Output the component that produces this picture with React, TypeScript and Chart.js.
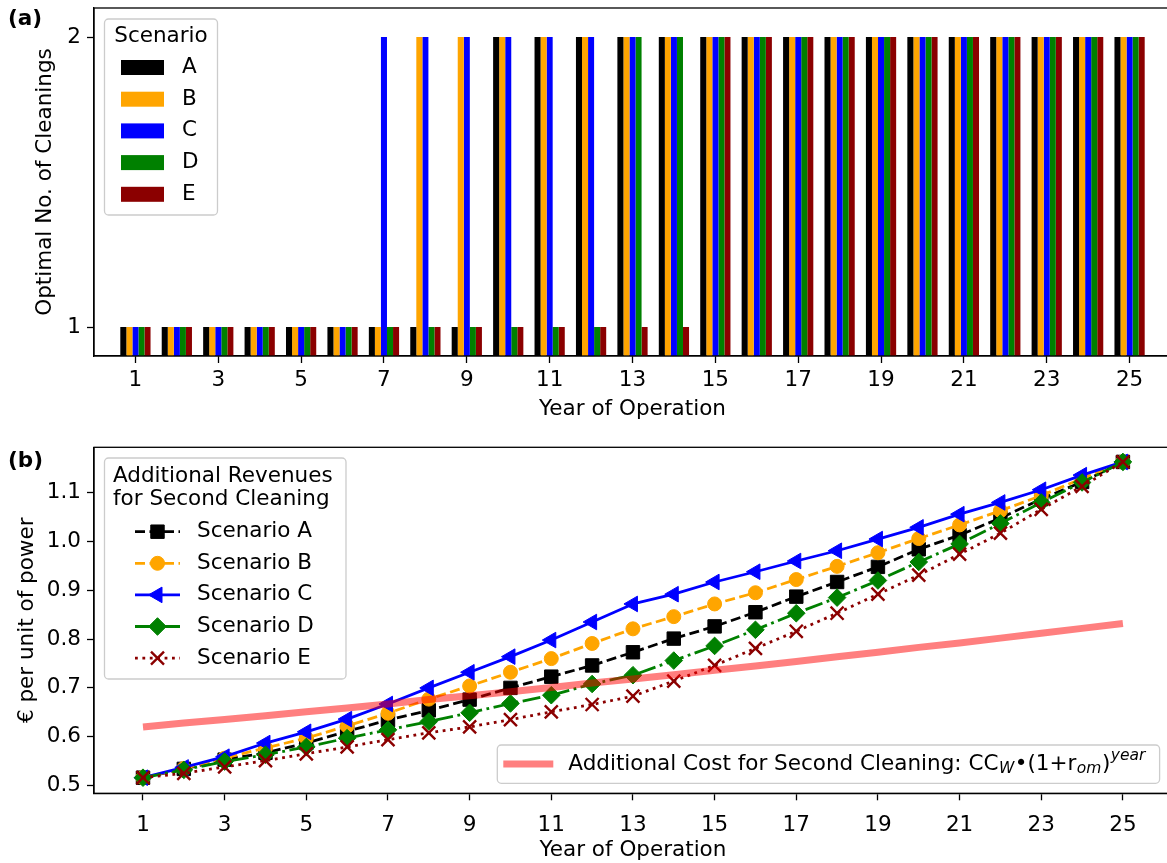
import React, { useEffect, useRef } from "react";
import { Chart, registerables } from "chart.js";

Chart.register(...registerables);

// ---------------- data ----------------
const years = [1, 2, 3, 4, 5, 6, 7, 8, 9, 10, 11, 12, 13, 14, 15, 16, 17, 18, 19, 20, 21, 22, 23, 24, 25];
const xTickValues = [1, 3, 5, 7, 9, 11, 13, 15, 17, 19, 21, 23, 25];
const topYTicks = [1, 2];
const bottomYTicks = [0.5, 0.6, 0.7, 0.8, 0.9, 1.0, 1.1];

const scenarioLabels = ["A", "B", "C", "D", "E"];
const scenarioColors = ["#000000", "#ffa500", "#0000ff", "#008000", "#8b0000"];

// (a) optimal number of cleanings per year
const cleaningsA = [1, 1, 1, 1, 1, 1, 1, 1, 1, 2, 2, 2, 2, 2, 2, 2, 2, 2, 2, 2, 2, 2, 2, 2, 2];
const cleaningsB = [1, 1, 1, 1, 1, 1, 1, 2, 2, 2, 2, 2, 2, 2, 2, 2, 2, 2, 2, 2, 2, 2, 2, 2, 2];
const cleaningsC = [1, 1, 1, 1, 1, 1, 2, 2, 2, 2, 2, 2, 2, 2, 2, 2, 2, 2, 2, 2, 2, 2, 2, 2, 2];
const cleaningsD = [1, 1, 1, 1, 1, 1, 1, 1, 1, 1, 1, 1, 2, 2, 2, 2, 2, 2, 2, 2, 2, 2, 2, 2, 2];
const cleaningsE = [1, 1, 1, 1, 1, 1, 1, 1, 1, 1, 1, 1, 1, 1, 2, 2, 2, 2, 2, 2, 2, 2, 2, 2, 2];

// (b) additional revenues for second cleaning (EUR per unit of power)
const revenueA = [0.516, 0.534, 0.553, 0.567, 0.587, 0.611, 0.634, 0.654, 0.676, 0.700, 0.723, 0.746, 0.773, 0.801, 0.826, 0.855, 0.887, 0.917, 0.948, 0.984, 1.013, 1.048, 1.087, 1.122, 1.163];
const revenueB = [0.516, 0.535, 0.556, 0.577, 0.597, 0.622, 0.648, 0.677, 0.704, 0.732, 0.760, 0.791, 0.821, 0.846, 0.872, 0.895, 0.922, 0.949, 0.977, 1.006, 1.034, 1.063, 1.094, 1.129, 1.163];
const revenueC = [0.516, 0.537, 0.559, 0.587, 0.610, 0.636, 0.667, 0.700, 0.732, 0.764, 0.798, 0.835, 0.872, 0.892, 0.917, 0.938, 0.960, 0.981, 1.005, 1.029, 1.056, 1.080, 1.106, 1.136, 1.163];
const revenueD = [0.516, 0.532, 0.549, 0.563, 0.579, 0.597, 0.614, 0.631, 0.649, 0.668, 0.685, 0.708, 0.726, 0.756, 0.786, 0.819, 0.853, 0.885, 0.920, 0.958, 0.995, 1.037, 1.080, 1.121, 1.163];
const revenueE = [0.516, 0.525, 0.538, 0.551, 0.565, 0.579, 0.594, 0.608, 0.620, 0.635, 0.651, 0.666, 0.683, 0.714, 0.746, 0.781, 0.816, 0.853, 0.892, 0.931, 0.974, 1.017, 1.066, 1.113, 1.163];
const secondCleaningCost = [0.620, 0.628, 0.635, 0.643, 0.651, 0.659, 0.667, 0.676, 0.684, 0.692, 0.701, 0.710, 0.718, 0.727, 0.736, 0.745, 0.754, 0.764, 0.773, 0.783, 0.792, 0.802, 0.812, 0.822, 0.832];

// ---------------- styles ----------------
const FONT = "'DejaVu Sans', sans-serif";
const FS = 21.5;
const LW = 2.8;

type MarkerKind = "square" | "circle" | "triangleLeft" | "diamond" | "x";

const lineStyles = [
  { label: "Scenario A", color: "#000000", dash: [10, 4.5], marker: "square" as MarkerKind, pointStyle: "rect", radius: 9.5, rotation: 0, bw: 1 },
  { label: "Scenario B", color: "#ffa500", dash: [10, 4.5], marker: "circle" as MarkerKind, pointStyle: "circle", radius: 7, rotation: 0, bw: 1 },
  { label: "Scenario C", color: "#0000ff", dash: [] as number[], marker: "triangleLeft" as MarkerKind, pointStyle: "triangle", radius: 9, rotation: -90, bw: 1 },
  { label: "Scenario D", color: "#008000", dash: [18, 4.5, 2.8, 4.5], marker: "diamond" as MarkerKind, pointStyle: "rectRot", radius: 8.8, rotation: 0, bw: 1 },
  { label: "Scenario E", color: "#8b0000", dash: [2.8, 4.6], marker: "x" as MarkerKind, pointStyle: "crossRot", radius: 9.2, rotation: 0, bw: 2.4 },
];
const revenueSeries = [revenueA, revenueB, revenueC, revenueD, revenueE];
const cleaningSeries = [cleaningsA, cleaningsB, cleaningsC, cleaningsD, cleaningsE];

function roundRect(ctx: CanvasRenderingContext2D, x: number, y: number, w: number, h: number, r: number) {
  ctx.beginPath();
  ctx.moveTo(x + r, y);
  ctx.lineTo(x + w - r, y);
  ctx.arcTo(x + w, y, x + w, y + r, r);
  ctx.lineTo(x + w, y + h - r);
  ctx.arcTo(x + w, y + h, x + w - r, y + h, r);
  ctx.lineTo(x + r, y + h);
  ctx.arcTo(x, y + h, x, y + h - r, r);
  ctx.lineTo(x, y + r);
  ctx.arcTo(x, y, x + r, y, r);
  ctx.closePath();
}

function drawMarker(ctx: CanvasRenderingContext2D, kind: MarkerKind, x: number, y: number, r: number, color: string, bw: number) {
  ctx.save();
  ctx.setLineDash([]);
  ctx.fillStyle = color;
  ctx.strokeStyle = color;
  ctx.lineWidth = bw;
  ctx.beginPath();
  if (kind === "square") {
    const s = Math.SQRT1_2 * r;
    ctx.rect(x - s, y - s, 2 * s, 2 * s);
    ctx.fill();
    ctx.stroke();
  } else if (kind === "circle") {
    ctx.arc(x, y, r, 0, Math.PI * 2);
    ctx.fill();
    ctx.stroke();
  } else if (kind === "triangleLeft") {
    ctx.moveTo(x - r, y);
    ctx.lineTo(x + r / 2, y - 0.866 * r);
    ctx.lineTo(x + r / 2, y + 0.866 * r);
    ctx.closePath();
    ctx.fill();
    ctx.stroke();
  } else if (kind === "diamond") {
    ctx.moveTo(x, y - r);
    ctx.lineTo(x + r, y);
    ctx.lineTo(x, y + r);
    ctx.lineTo(x - r, y);
    ctx.closePath();
    ctx.fill();
    ctx.stroke();
  } else {
    const s = Math.SQRT1_2 * r;
    ctx.moveTo(x - s, y - s);
    ctx.lineTo(x + s, y + s);
    ctx.moveTo(x + s, y - s);
    ctx.lineTo(x - s, y + s);
    ctx.stroke();
  }
  ctx.restore();
}

function drawSpines(chart: any) {
  const { ctx, chartArea: ca } = chart;
  ctx.save();
  ctx.strokeStyle = "#000";
  ctx.lineWidth = 1.3;
  ctx.setLineDash([]);
  ctx.strokeRect(ca.left, ca.top, ca.right - ca.left, ca.bottom - ca.top);
  ctx.restore();
}

function legendBox(ctx: CanvasRenderingContext2D, x: number, y: number, w: number, h: number) {
  roundRect(ctx, x, y, w, h, 4);
  ctx.fillStyle = "rgba(255,255,255,0.8)";
  ctx.fill();
  ctx.strokeStyle = "#cccccc";
  ctx.lineWidth = 1.3;
  ctx.stroke();
}

const topDecor = {
  id: "topDecor",
  afterDraw(chart: any) {
    drawSpines(chart);
    const { ctx, chartArea: ca } = chart;
    ctx.save();
    const bx = ca.left + 10.5;
    const by = ca.top + 11;
    const bw = 113;
    const bh = 196;
    legendBox(ctx, bx, by, bw, bh);
    ctx.fillStyle = "#000";
    ctx.font = `${FS}px ${FONT}`;
    ctx.textBaseline = "middle";
    ctx.textAlign = "center";
    ctx.fillText("Scenario", bx + bw / 2, ca.top + 28.5);
    ctx.textAlign = "left";
    for (let i = 0; i < scenarioLabels.length; i++) {
      const yc = ca.top + 59.5 + i * 31.7;
      ctx.fillStyle = scenarioColors[i];
      ctx.fillRect(ca.left + 27, yc - 7.5, 43, 15);
      ctx.fillStyle = "#000";
      ctx.fillText(scenarioLabels[i], ca.left + 88, yc);
    }
    ctx.font = `bold ${FS}px ${FONT}`;
    ctx.fillText("(a)", 8, 19.5);
    ctx.restore();
  },
};

const bottomDecor = {
  id: "bottomDecor",
  afterDraw(chart: any) {
    drawSpines(chart);
    const { ctx, chartArea: ca } = chart;
    ctx.save();
    // scenario legend
    const bx = ca.left + 10.5;
    const by = ca.top + 10.7;
    legendBox(ctx, bx, by, 241.5, 221);
    ctx.fillStyle = "#000";
    ctx.font = `${FS}px ${FONT}`;
    ctx.textBaseline = "middle";
    ctx.textAlign = "left";
    ctx.fillText("Additional Revenues", ca.left + 19, ca.top + 28.7);
    ctx.fillText("for Second Cleaning", ca.left + 19, ca.top + 52.2);
    for (let i = 0; i < lineStyles.length; i++) {
      const st = lineStyles[i];
      const yc = ca.top + 84.4 + i * 31.6;
      ctx.save();
      ctx.strokeStyle = st.color;
      ctx.lineWidth = LW;
      ctx.setLineDash(st.dash);
      ctx.beginPath();
      ctx.moveTo(ca.left + 41, yc);
      ctx.lineTo(ca.left + 86, yc);
      ctx.stroke();
      ctx.restore();
      drawMarker(ctx, st.marker, ca.left + 63.5, yc, st.radius, st.color, st.bw);
      ctx.fillStyle = "#000";
      ctx.font = `${FS}px ${FONT}`;
      ctx.fillText(st.label, ca.left + 103, yc);
    }
    // cost legend
    const b2x = 497.3;
    const b2y = ca.bottom - 48.3;
    legendBox(ctx, b2x, b2y, 662.3, 38.3);
    const yc = b2y + 19;
    ctx.save();
    ctx.strokeStyle = "rgba(255,0,0,0.5)";
    ctx.lineWidth = 7;
    ctx.beginPath();
    ctx.moveTo(b2x + 6, yc);
    ctx.lineTo(b2x + 56, yc);
    ctx.stroke();
    ctx.restore();
    let x = b2x + 71;
    const normal = `${FS}px ${FONT}`;
    const small = `italic 15.5px ${FONT}`;
    ctx.fillStyle = "#000";
    const parts: [string, string, number][] = [
      ["Additional Cost for Second Cleaning: CC", normal, 0],
      ["W", small, 5],
      ["\u2022(1+r", normal, 0],
      ["om", small, 5],
      [")", normal, 0],
      ["year", small, -8],
    ];
    for (const [t, f, dy] of parts) {
      ctx.font = f;
      ctx.fillText(t, x, yc + dy);
      x += ctx.measureText(t).width + 0.5;
    }
    ctx.font = `bold ${FS}px ${FONT}`;
    ctx.fillText("(b)", 8, 31.5);
    ctx.restore();
  },
};

const axisFont = { family: FONT, size: FS };

function xAxis(min: number, max: number, height: number, tickPad: number, titleBottom: number) {
  return {
    type: "linear" as const,
    min,
    max,
    offset: false,
    afterBuildTicks: (s: any) => {
      s.ticks = xTickValues.map((v) => ({ value: v }));
    },
    afterFit: (s: any) => {
      s.height = height;
      s.paddingLeft = 0;
      s.paddingRight = 0;
    },
    ticks: {
      font: axisFont,
      color: "#000",
      padding: tickPad,
      autoSkip: false,
      maxRotation: 0,
      callback: (v: any) => String(v),
    },
    grid: { display: true, offset: false, drawOnChartArea: false, drawTicks: true, tickLength: 7, tickColor: "#000", tickWidth: 1.3 },
    border: { display: true, color: "#000", width: 1.3 },
    title: { display: true, text: "Year of Operation", font: axisFont, color: "#000", padding: { top: 0, bottom: titleBottom } },
  };
}

function yAxisFit(s: any) {
  s.width = 94;
  s.paddingTop = 0;
  s.paddingBottom = 0;
}

export default function App() {
  const topRef = useRef<HTMLCanvasElement>(null);
  const botRef = useRef<HTMLCanvasElement>(null);

  useEffect(() => {
    document.body.style.overflow = "hidden";
    const top = new Chart(topRef.current as HTMLCanvasElement, {
      type: "bar",
      data: {
        datasets: cleaningSeries.map((vals, i) => ({
          label: scenarioLabels[i],
          data: years.map((yr, j) => ({ x: yr, y: vals[j] })),
          backgroundColor: scenarioColors[i],
          borderWidth: 0,
          categoryPercentage: 0.73,
          barPercentage: 1.0,
        })),
      },
      options: {
        responsive: false,
        animation: false,
        devicePixelRatio: 1,
        layout: { padding: { top: 8, right: 9, left: 0, bottom: 0 }, autoPadding: false },
        plugins: { legend: { display: false }, tooltip: { enabled: false } },
        scales: {
          x: xAxis(0, 26, 74, 5, 8) as any,
          y: {
            type: "linear",
            min: 0.9,
            max: 2.1,
            afterBuildTicks: (s: any) => {
              s.ticks = topYTicks.map((v) => ({ value: v }));
            },
            afterFit: yAxisFit,
            ticks: { font: axisFont, color: "#000", padding: 6, callback: (v: any) => String(v) },
            grid: { display: true, drawOnChartArea: false, drawTicks: true, tickLength: 7, tickColor: "#000", tickWidth: 1.3 },
            border: { display: true, color: "#000", width: 1.3 },
            title: { display: true, text: "Optimal No. of Cleanings", font: axisFont, color: "#000", padding: { top: 33, bottom: 0 } },
          },
        },
      },
      plugins: [topDecor],
    });

    const lineDatasets: any[] = lineStyles.map((st, i) => ({
      label: st.label,
      data: years.map((yr, j) => ({ x: yr, y: revenueSeries[i][j] })),
      borderColor: st.color,
      backgroundColor: st.color,
      borderWidth: LW,
      borderDash: st.dash,
      borderCapStyle: "butt",
      borderJoinStyle: "round",
      pointStyle: st.pointStyle,
      pointRadius: st.radius,
      pointRotation: st.rotation,
      pointBackgroundColor: st.color,
      pointBorderColor: st.color,
      pointBorderWidth: st.bw,
      fill: false,
      tension: 0,
      order: 5 - i,
    }));
    lineDatasets.push({
      label: "Additional Cost for Second Cleaning",
      data: years.map((yr, j) => ({ x: yr, y: secondCleaningCost[j] })),
      borderColor: "rgba(255,0,0,0.5)",
      borderWidth: 7,
      borderCapStyle: "butt",
      pointRadius: 0,
      fill: false,
      tension: 0,
      order: 0,
    });

    const bottom = new Chart(botRef.current as HTMLCanvasElement, {
      type: "line",
      data: { datasets: lineDatasets },
      options: {
        responsive: false,
        animation: false,
        devicePixelRatio: 1,
        layout: { padding: { top: 17.3, right: 8.1, left: 0, bottom: 0 }, autoPadding: false },
        plugins: { legend: { display: false }, tooltip: { enabled: false } },
        scales: {
          x: xAxis(-0.2, 26.2, 69.7, 12, 0) as any,
          y: {
            type: "linear",
            min: 0.484,
            max: 1.193,
            afterBuildTicks: (s: any) => {
              s.ticks = bottomYTicks.map((v) => ({ value: v }));
            },
            afterFit: yAxisFit,
            ticks: { font: axisFont, color: "#000", padding: 6, callback: (v: any) => Number(v).toFixed(1) },
            grid: { display: true, drawOnChartArea: false, drawTicks: true, tickLength: 7, tickColor: "#000", tickWidth: 1.3 },
            border: { display: true, color: "#000", width: 1.3 },
            title: { display: true, text: "\u20ac per unit of power", font: axisFont, color: "#000", padding: { top: 15, bottom: 0 } },
          },
        },
      },
      plugins: [bottomDecor],
    });

    return () => {
      top.destroy();
      bottom.destroy();
    };
  }, []);

  return (
    <div style={{ position: "absolute", left: 0, top: 0, width: 1167, height: 863, overflow: "hidden", background: "#ffffff" }}>
      <canvas ref={topRef} width={1180} height={430} style={{ position: "absolute", left: 0, top: 0, width: 1180, height: 430 }} />
      <canvas ref={botRef} width={1180} height={433} style={{ position: "absolute", left: 0, top: 430, width: 1180, height: 433 }} />
    </div>
  );
}
